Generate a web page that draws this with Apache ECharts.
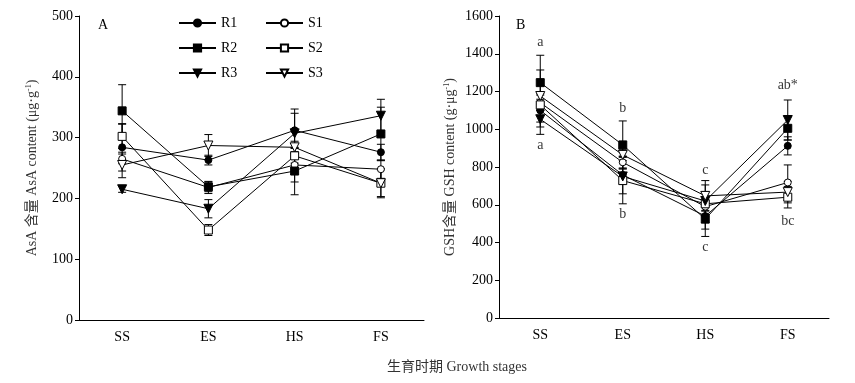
<!DOCTYPE html>
<html><head><meta charset="utf-8">
<script src="https://cdn.jsdelivr.net/npm/echarts@6/dist/echarts.min.js"></script>
<style>html,body{margin:0;padding:0;background:#fff}#c{width:855px;height:383px}</style>
</head><body><div id="c"></div>
<script>
// ---------- data ----------
const categories = ['SS', 'ES', 'HS', 'FS'];
const seriesNames = ['R1', 'S1', 'R2', 'S2', 'R3', 'S3'];

// Panel A: AsA content
const asaR1 = [284, 263, 312, 276];
const asaS1 = [265, 218, 255, 248];
const asaR2 = [344, 219, 245, 306];
const asaS2 = [302, 148, 270, 225];
const asaR3 = [215, 183, 307, 336];
const asaS3 = [255, 287, 284, 225];
const asaErrR1 = [39, 8, 35, 13];
const asaErrS1 = [8, 10, 28, 15];
const asaErrR2 = [43, 8, 39, 44];
const asaErrS2 = [20, 9, 12, 24];
const asaErrR3 = [5, 15, 33, 27];
const asaErrS3 = [21, 18, 10, 22];

// Panel B: GSH content
const gshR1 = [1100, 758, 540, 912];
const gshS1 = [1141, 825, 590, 718];
const gshR2 = [1247, 917, 524, 1005];
const gshS2 = [1129, 728, 605, 640];
const gshR3 = [1053, 750, 620, 1049];
const gshS3 = [1176, 864, 647, 667];
const gshErrR1 = [88, 100, 69, 48];
const gshErrS1 = [40, 30, 40, 93];
const gshErrR2 = [145, 127, 92, 62];
const gshErrS2 = [30, 123, 100, 57];
const gshErrR3 = [80, 40, 50, 106];
const gshErrS3 = [138, 30, 81, 57];

// significance letters in panel B
const annotText = ['a', 'a', 'b', 'b', 'c', 'c', 'ab*', 'bc'];
const annotCat = [0, 0, 1, 1, 2, 2, 3, 3];
const annotVal = [1462, 917, 1113, 547, 785, 372, 1234, 510];

const yTicksA = [0, 100, 200, 300, 400, 500];
const yTicksB = [0, 200, 400, 600, 800, 1000, 1200, 1400, 1600];

// ---------- styling ----------
const FONT = '"Liberation Serif", "Times New Roman", "Noto Sans CJK SC", serif';
const styles = {
  R1: {symbol: 'circle', size: 7, fill: '#000'},
  S1: {symbol: 'circle', size: 7, fill: '#fff'},
  R2: {symbol: 'rect', size: 8, fill: '#000'},
  S2: {symbol: 'rect', size: 8, fill: '#fff'},
  R3: {symbol: 'triangle', size: 9, fill: '#000', rotate: 180},
  S3: {symbol: 'triangle', size: 9, fill: '#fff', rotate: 180}
};

const panelA = {R1: [asaR1, asaErrR1], S1: [asaS1, asaErrS1], R2: [asaR2, asaErrR2],
                S2: [asaS2, asaErrS2], R3: [asaR3, asaErrR3], S3: [asaS3, asaErrS3]};
const panelB = {R1: [gshR1, gshErrR1], S1: [gshS1, gshErrS1], R2: [gshR2, gshErrR2],
                S2: [gshS2, gshErrS2], R3: [gshR3, gshErrR3], S3: [gshS3, gshErrS3]};

function errRender(params, api) {
  const x = api.value(0), y = api.value(1), e = api.value(2);
  const top = api.coord([x, y + e]);
  const bot = api.coord([x, y - e]);
  const hw = 4;
  const st = {stroke: '#000', lineWidth: 1};
  return {type: 'group', children: [
    {type: 'line', shape: {x1: top[0], y1: top[1], x2: bot[0], y2: bot[1]}, style: st},
    {type: 'line', shape: {x1: top[0] - hw, y1: top[1], x2: top[0] + hw, y2: top[1]}, style: st},
    {type: 'line', shape: {x1: bot[0] - hw, y1: bot[1], x2: bot[0] + hw, y2: bot[1]}, style: st}
  ]};
}

const series = [];
[[panelA, 0], [panelB, 1]].forEach(([panel, idx]) => {
  seriesNames.forEach(n => {
    const [vals, errs] = panel[n];
    series.push({
      type: 'custom', xAxisIndex: idx, yAxisIndex: idx, z: 1,
      renderItem: errRender, silent: true,
      data: vals.map((v, i) => [i, v, errs[i]])
    });
  });
  seriesNames.forEach(n => {
    const s = styles[n];
    const [vals] = panel[n];
    series.push({
      name: n, type: 'line', xAxisIndex: idx, yAxisIndex: idx, z: 3,
      data: vals, symbol: s.symbol, symbolSize: s.size, symbolRotate: s.rotate || 0,
      showAllSymbol: true,
      lineStyle: {color: '#000', width: 1},
      itemStyle: {color: s.fill, borderColor: '#000', borderWidth: 1},
      emphasis: {disabled: true}, animation: false
    });
  });
});

series.push({
  type: 'scatter', xAxisIndex: 1, yAxisIndex: 1, symbolSize: 0, silent: true,
  data: annotText.map((t, i) => ({name: t, value: [annotCat[i], annotVal[i]]})),
  label: {show: true, position: 'inside', formatter: '{b}', color: '#000', fontSize: 14, fontFamily: FONT}
});

function xAxis(gi) {
  return {
    type: 'category', gridIndex: gi, data: categories, boundaryGap: true,
    axisLine: {lineStyle: {color: '#000', width: 1}},
    axisTick: {alignWithLabel: true, inside: true, length: 5, lineStyle: {color: '#000'}},
    axisLabel: {color: '#000', fontSize: 14, fontFamily: FONT, margin: 10}
  };
}
function yAxis(gi, ticks, nameRich, gap) {
  return {
    type: 'value', gridIndex: gi, min: ticks[0], max: ticks[ticks.length - 1],
    interval: ticks[1] - ticks[0],
    name: nameRich, nameLocation: 'middle', nameGap: gap, nameRotate: 90,
    nameTextStyle: {color: '#333', fontSize: 14, fontFamily: FONT,
      rich: {sup: {fontSize: 8, verticalAlign: 'top', padding: [0, 0, 6, 0], fontFamily: FONT, color: '#333'}}},
    splitLine: {show: false},
    axisLine: {show: true, lineStyle: {color: '#000', width: 1}},
    axisTick: {show: true, length: 4, lineStyle: {color: '#000'}},
    axisLabel: {color: '#000', fontSize: 14, fontFamily: FONT, margin: 6,
      formatter: v => String(v)}
  };
}

const legendCommon = {
  orient: 'vertical', itemWidth: 37, itemHeight: 9, itemGap: 11,
  textStyle: {color: '#000', fontSize: 14, fontFamily: FONT},
  selectedMode: false, top: 11
};

const option = {
  animation: false,
  backgroundColor: '#fff',
  grid: [
    {left: 79, top: 16, right: 431, bottom: 63},
    {left: 499, top: 16, right: 26, bottom: 65}
  ],
  xAxis: [xAxis(0), xAxis(1)],
  yAxis: [
    yAxis(0, yTicksA, 'AsA 含量 AsA content (μg·g{sup|-1})', 40),
    yAxis(1, yTicksB, 'GSH含量 GSH content (g·μg{sup|-1})', 42)
  ],
  legend: [
    Object.assign({}, legendCommon, {left: 173, data: ['R1', 'R2', 'R3']}),
    Object.assign({}, legendCommon, {left: 260, data: ['S1', 'S2', 'S3']})
  ],
  graphic: [
    {type: 'text', left: 98, top: 18, style: {text: 'A', fontSize: 14, fontFamily: FONT, fill: '#000'}},
    {type: 'text', left: 516, top: 18, style: {text: 'B', fontSize: 14, fontFamily: FONT, fill: '#000'}},
    {type: 'text', left: 387, top: 360, style: {text: '生育时期 Growth stages', fontSize: 14, fontFamily: FONT, fill: '#333'}}
  ],
  series: series
};

const chart = echarts.init(document.getElementById('c'), null, {renderer: 'canvas'});
chart.setOption(option);
</script>
</body></html>
